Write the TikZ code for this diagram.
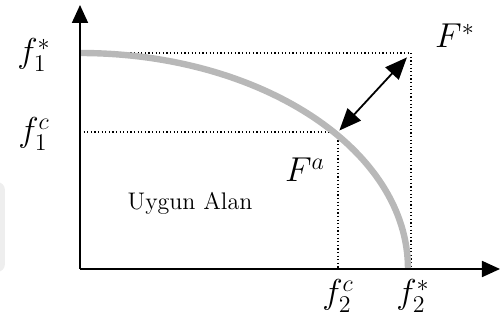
\documentclass[tikz,border=0pt]{standalone}
\usepackage{tikz}
\usetikzlibrary{arrows.meta}
\definecolor{Front}{HTML}{B8B8B8}
\definecolor{Ink}{HTML}{000000}
\definecolor{Ghost}{HTML}{EEEEEE}
\tikzset{
  axis/.style={Ink,line width=.9pt,-{Triangle[length=9pt,width=8pt]}},
  guide/.style={Ink,dash pattern=on .6pt off 1.2pt,line width=.7pt},
  gap/.style={Ink,line width=.9pt,{Triangle[length=11pt,width=9pt]}-{Triangle[length=11pt,width=9pt]},shorten <=1pt,shorten >=3pt},
  lbl/.style={inner sep=0pt,font=\LARGE},
  area/.style={inner sep=0pt,font=\large}
}
\begin{document}
\begin{tikzpicture}[x=.5pt,y=-.5pt]
      \useasboundingbox (0,0) rectangle (500,326);
      \path[fill=Ghost,rounded corners=4pt] (-10,182) rectangle (5,272);
      \coordinate (O) at (80,269);
      \coordinate (ytip) at (80,5);
      \coordinate (xtip) at (500,269);
      \coordinate (Fs) at (411,53);
      \coordinate (Fa) at (338,132);
      \draw[guide] (80,53) -| (411,269);
      \draw[guide] (80,132) -| (338,269);
      \draw[Front,line width=3.2pt] (80,53) arc[start angle=-90,end angle=0,x radius=328,y radius=216];
      \draw[axis] (O) -- (ytip);
      \draw[axis] (O) -- (xtip);
      \draw[gap] (Fa) -- (Fs);
      \node[lbl] (f1s) at (34,55) {$f_1^*$};
      \node[lbl] (f1c) at (34,134) {$f_1^c$};
      \node[lbl] (f2c) at (338,296) {$f_2^c$};
      \node[lbl] (f2s) at (413,296) {$f_2^*$};
      \node[lbl] (Fstar) at (455,36) {$F^*$};
      \node[lbl] (Fat) at (305,170) {$F^a$};
      \node[area] (region) at (190,203) {Uygun Alan};
    \end{tikzpicture}
\end{document}
